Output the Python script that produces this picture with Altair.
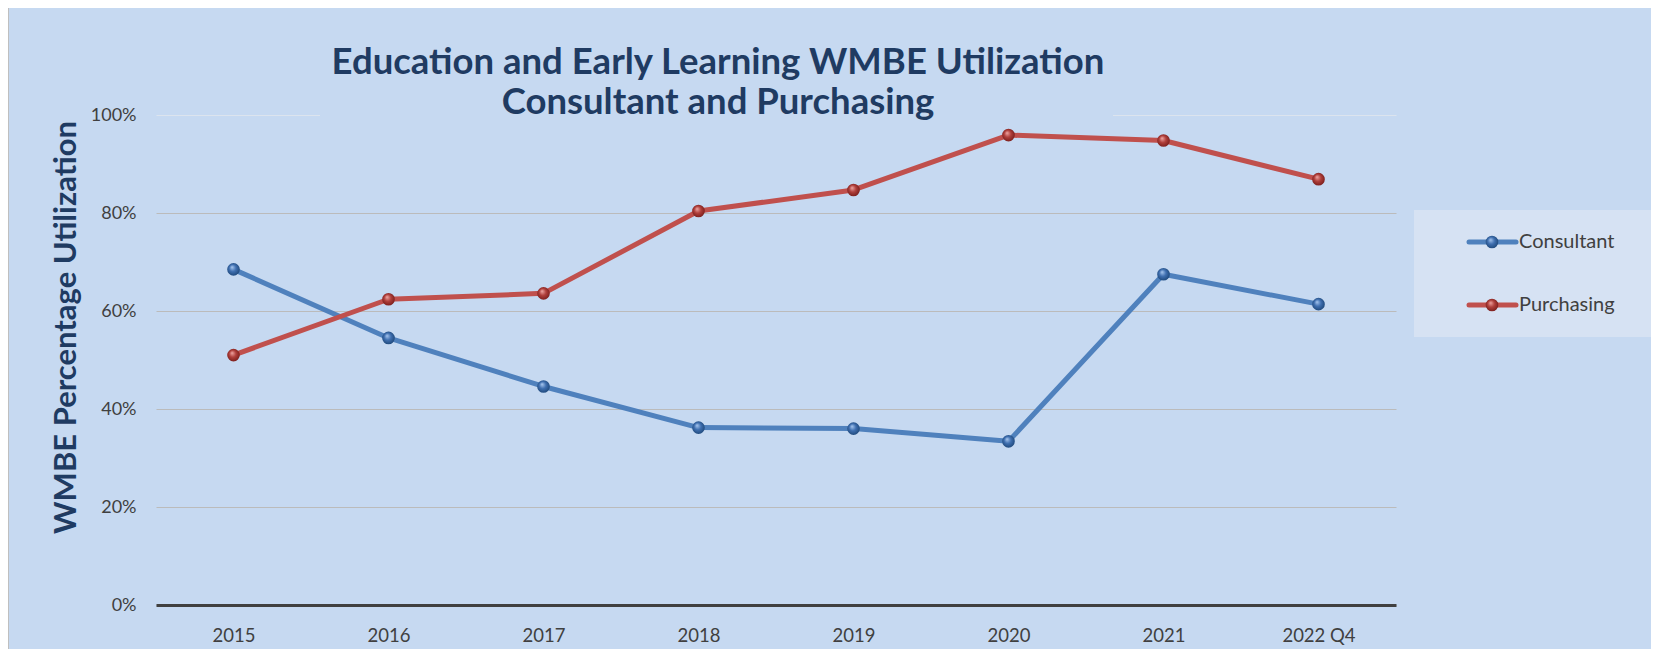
import altair as alt
import pandas as pd

categories = ["2015", "2016", "2017", "2018", "2019", "2020", "2021", "2022 Q4"]
consultant = [0.685, 0.545, 0.446, 0.362, 0.360, 0.334, 0.675, 0.614]
purchasing = [0.510, 0.624, 0.636, 0.804, 0.847, 0.959, 0.948, 0.869]
series = ["Consultant", "Purchasing"]
colors = ["#4F81BD", "#C0504D"]
title_lines = ["Education and Early Learning WMBE Utilization", "Consultant and Purchasing"]
y_title = "WMBE Percentage Utilization"
y_ticks = [0, 0.2, 0.4, 0.6, 0.8, 1.0]

BG = "#C6D9F1"
FONT = "Lato"
W, H = 1240, 490

rows = []
for s, vals in zip(series, [consultant, purchasing]):
    for c, v in zip(categories, vals):
        rows.append({"year": c, "series": s, "value": v})
df = pd.DataFrame(rows)

gradients = {
    "Consultant": alt.RadialGradient(
        gradient="radial", x1=0.38, y1=0.32, r1=0.0, x2=0.5, y2=0.5, r2=0.6,
        stops=[alt.GradientStop(offset=0, color="#A9C8F0"),
               alt.GradientStop(offset=0.45, color="#3F6FB0"),
               alt.GradientStop(offset=1, color="#17406F")]),
    "Purchasing": alt.RadialGradient(
        gradient="radial", x1=0.38, y1=0.32, r1=0.0, x2=0.5, y2=0.5, r2=0.6,
        stops=[alt.GradientStop(offset=0, color="#F0A8A5"),
               alt.GradientStop(offset=0.45, color="#B03F3B"),
               alt.GradientStop(offset=1, color="#6E1715")]),
}

x_enc = alt.X(
    "year:N", sort=categories,
    scale=alt.Scale(type="point", padding=0.5, domain=categories),
    axis=alt.Axis(title=None, labelAngle=0, ticks=False, domain=True,
                  domainColor="#404040", domainWidth=3, labelPadding=21,
                  labelFont=FONT, labelFontSize=18.5, labelColor="#404040", grid=False),
)
y_enc = alt.Y(
    "value:Q", scale=alt.Scale(domain=[0, 1], nice=False),
    axis=alt.Axis(values=y_ticks, format=".0%", ticks=False, domain=False,
                  labelPadding=20, labelFont=FONT, labelFontSize=18, labelColor="#404040",
                  grid=True,
                  gridColor=alt.condition("datum.value >= 1", alt.value("#DCE4EE"), alt.value("#BBBBBB")),
                  gridWidth=1,
                  title=y_title, titleFont=FONT, titleFontSize=31, titleFontWeight="bold",
                  titleColor="#1F3B62", titleX=-90, titleY=212, titleAngle=-90,
                  titleAlign="center", titleBaseline="middle"),
)
color_enc = alt.Color("series:N", scale=alt.Scale(domain=series, range=colors), legend=None)

base = alt.Chart(df)

one = pd.DataFrame({"k": [0]})

# background box behind title hiding the top gridline
title_box = alt.Chart(one).mark_rect(fill=BG).encode(
    x=alt.value(164), x2=alt.value(957), y=alt.value(-3), y2=alt.value(3))

lines = base.mark_line(strokeWidth=5, strokeCap="round", strokeJoin="round").encode(
    x=x_enc, y=y_enc, color=color_enc, order=alt.Order("year_idx:Q")
).transform_calculate(year_idx="indexof(%s, datum.year)" % str(categories).replace("'", '"'))

point_layers = []
for s in series:
    point_layers.append(
        base.transform_filter(alt.datum.series == s)
        .mark_point(filled=True, size=160, opacity=1, fill=gradients[s], stroke=None)
        .encode(x=alt.X("year:N", sort=categories), y="value:Q")
    )

title = alt.Chart(one).mark_text(
    text=title_lines, font=FONT, fontSize=36.5, fontWeight="bold", color="#1F3B62",
    align="center", baseline="alphabetic", lineHeight=40,
).encode(x=alt.value(562), y=alt.value(-41))

legend_box = alt.Chart(one).mark_rect(fill="#D6E2F3").encode(
    x=alt.value(1258), x2=alt.value(1500), y=alt.value(95), y2=alt.value(222))

legend_layers = []
for i, s in enumerate(series):
    ly = 127 + 63 * i
    d = pd.DataFrame({"series": [s]})
    legend_layers.append(alt.Chart(d).mark_rule(color=colors[i], strokeWidth=5, strokeCap="round").encode(
        x=alt.value(1313), x2=alt.value(1360), y=alt.value(ly)))
    legend_layers.append(alt.Chart(d).mark_point(filled=True, size=160, opacity=1, fill=gradients[s]).encode(
        x=alt.value(1336), y=alt.value(ly)))
    legend_layers.append(alt.Chart(d).mark_text(
        font=FONT, fontSize=20, color="#404040", align="left", baseline="middle").encode(
        x=alt.value(1363), y=alt.value(ly), text="series:N"))

border = alt.Chart(one).mark_rect(fill=None, stroke="#BFBFBF", strokeWidth=1).encode(
    x=alt.value(-147.5), x2=alt.value(1520), y=alt.value(-107.5), y2=alt.value(560))

chart = alt.layer(
    title_box, lines, *point_layers, title, legend_box, *legend_layers, border
).properties(
    width=W, height=H,
    autosize=alt.AutoSizeParams(type="none"),
    padding={"left": 148, "top": 107, "right": 255, "bottom": 44},
    background=BG,
).configure_view(stroke=None, fill=BG)

chart.save("out.html", embed_options={"renderer": "svg", "actions": False})
